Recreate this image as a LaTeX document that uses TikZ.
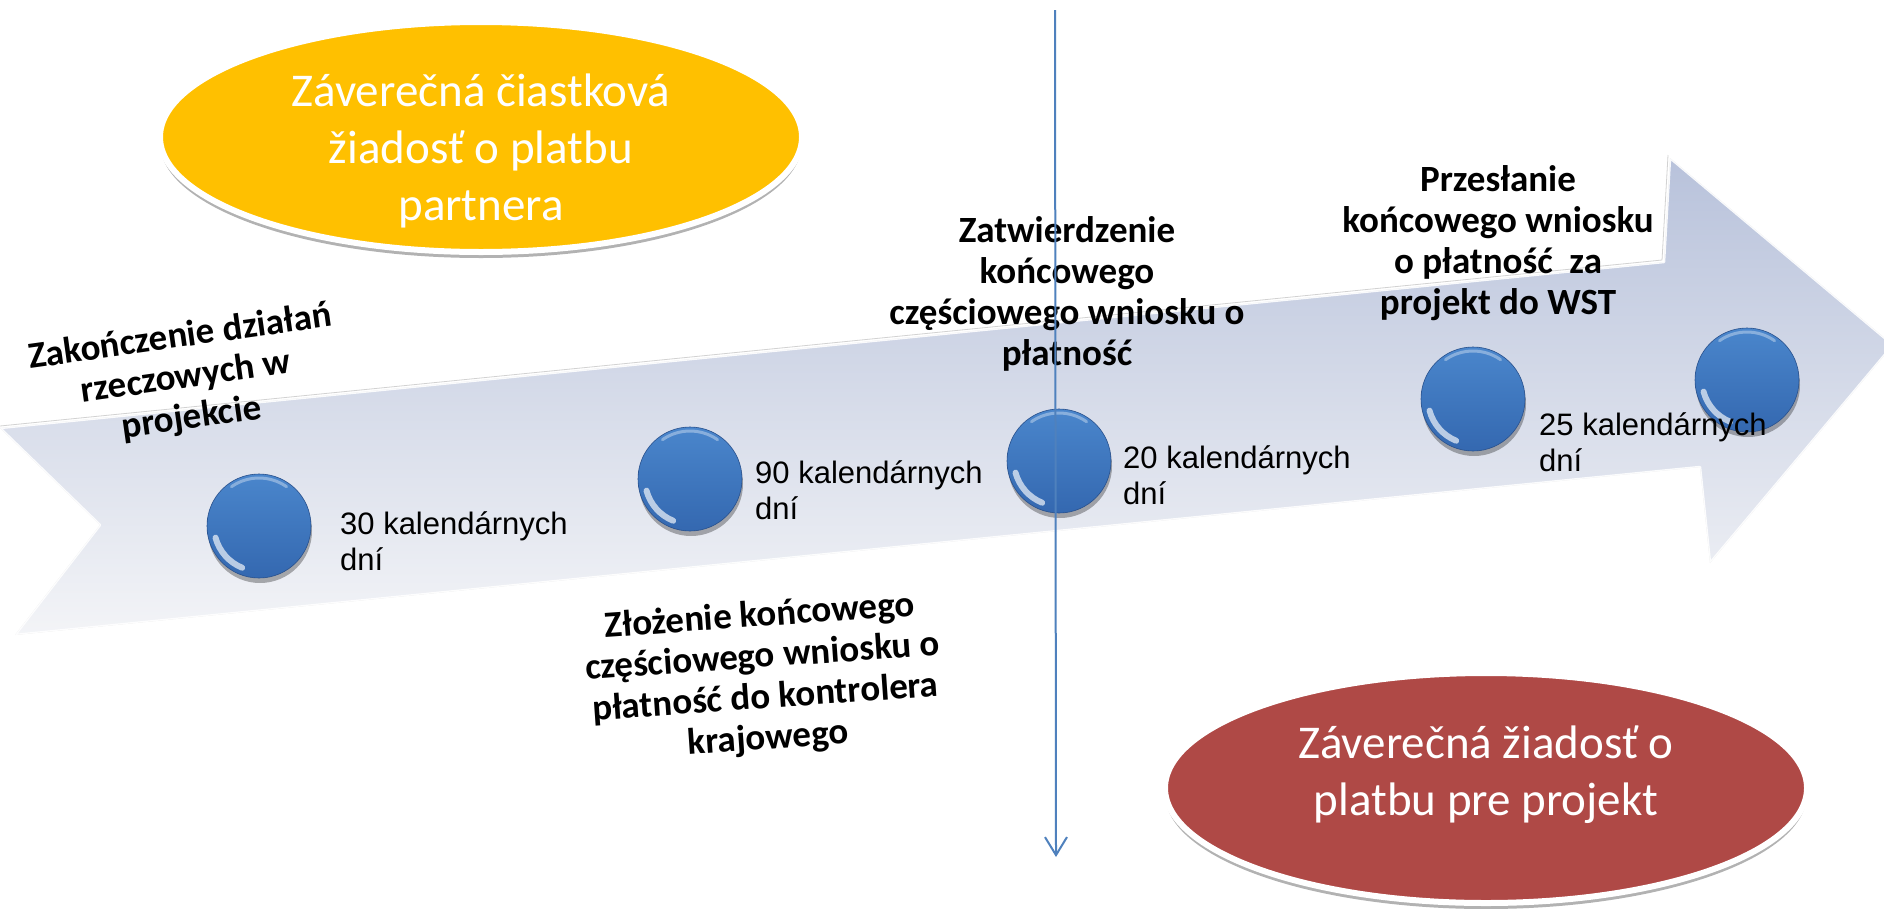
\documentclass[tikz,border=0pt]{standalone}
\usepackage{fontspec}
\setmainfont{Carlito}
\newfontfamily\arialf{Liberation Sans}
\usetikzlibrary{shapes.geometric,shadows,arrows.meta}
\definecolor{arrowtop}{RGB}{184,194,219}
\definecolor{arrowbot}{RGB}{243,244,247}
\definecolor{ylw}{RGB}{255,192,0}
\definecolor{redf}{RGB}{175,73,70}
\definecolor{sphtop}{RGB}{74,134,204}
\definecolor{sphbot}{RGB}{52,104,176}
\definecolor{sphedge}{RGB}{40,80,140}
\definecolor{lineblue}{RGB}{79,129,189}
\begin{document}
\begin{tikzpicture}[x=1pt,y=-1pt,
  ell/.style={ellipse, minimum width=642pt, minimum height=230pt, inner sep=0pt,
    draw=white, line width=6pt,
    drop shadow={shadow xshift=0pt, shadow yshift=-6pt, opacity=0.3, fill=black}},
  elltext/.style={text=white, align=center, inner sep=0pt, font=\fontsize{47}{57}\selectfont},
  sph/.style={circle, minimum size=104pt, inner sep=0pt,
    top color=sphtop, bottom color=sphbot, draw=sphedge, line width=0.6pt,
    drop shadow={shadow xshift=1pt, shadow yshift=-5pt, opacity=0.3, fill=black},
    path picture={
      \draw[white, opacity=0.65, line width=6pt, line cap=round]
        (path picture bounding box.center) ++(195:45pt) arc[start angle=195, end angle=248, radius=45pt];
      \draw[white, opacity=0.35, line width=3pt, line cap=round]
        (path picture bounding box.center) ++(55:48pt) arc[start angle=55, end angle=125, radius=48pt];
    }},
  boldlbl/.style={font=\bfseries\fontsize{37}{41}\selectfont, align=center, inner sep=0pt},
  daylbl/.style={font=\arialf\fontsize{31}{36}\selectfont, align=left, anchor=west, inner sep=0pt},
  vline/.style={draw=lineblue, line width=2pt, -{Straight Barb[length=18pt,width=22pt,line width=2pt]}}
]
\useasboundingbox (0,0) rectangle (1884,908);
\fill[white] (0,0) rectangle (1884,908);

% timeline arrow
\fill[top color=arrowtop, bottom color=arrowbot]
  (0,428) -- (1664,262) -- (1670,158) -- (1893,345) -- (1710,563) -- (1700,467) -- (15,635) -- (100,525) -- cycle;
\draw[white, line width=2.5pt, line join=round, opacity=0.9]
  (0,428) -- (1664,262) -- (1670,158) -- (1893,345) -- (1710,563) -- (1700,467) -- (15,635) -- (100,525) -- cycle;
\draw[gray!35, line width=0.8pt, line join=round]
  (0,426) -- (1662,260) -- (1668,155);

% ellipses
\node[ell, fill=ylw] (yel) at (481,137) {};
\node[elltext] (yelt) at (481,151) {Záverečná čiastková\\žiadosť o platbu\\partnera};
\node[ell, fill=redf] (red) at (1486,788) {};
\node[elltext] (redt) at (1486,775) {Záverečná žiadosť o\\platbu pre projekt};

% spheres
\node[sph] (s1) at (259,526) {};
\node[sph] (s2) at (690,479) {};
\node[sph] (s3) at (1059,461) {};
\node[sph] (s4) at (1473,399) {};
\node[sph] (s5) at (1747,380) {};

% day labels
\node[daylbl] (d1) at (340,541) {30 kalendárnych\\dní};
\node[daylbl] (d2) at (755,490) {90 kalendárnych\\dní};
\node[daylbl] (d3) at (1123,475) {20 kalendárnych\\dní};
\node[daylbl] (d4) at (1539,442) {25 kalendárnych\\dní};

% step labels
\node[boldlbl, rotate=8] (zak) at (186,378) {Zakończenie działań\\rzeczowych w\\projekcie};
\node[boldlbl] (zat) at (1067,294) {Zatwierdzenie\\końcowego\\częściowego wniosku o\\płatność};
\node[boldlbl] (prz) at (1498,243) {Przesłanie\\końcowego wniosku\\o płatność\ \ za\\projekt do WST};
\node[boldlbl, rotate=4] (zlo) at (764,678) {Złożenie końcowego\\częściowego wniosku o\\płatność do kontrolera\\krajowego};

% vertical divider
\coordinate (vt) at (1055,10);
\coordinate (vb) at (1056,857);
\draw[vline] (vt) -- (vb);
\end{tikzpicture}
\end{document}
